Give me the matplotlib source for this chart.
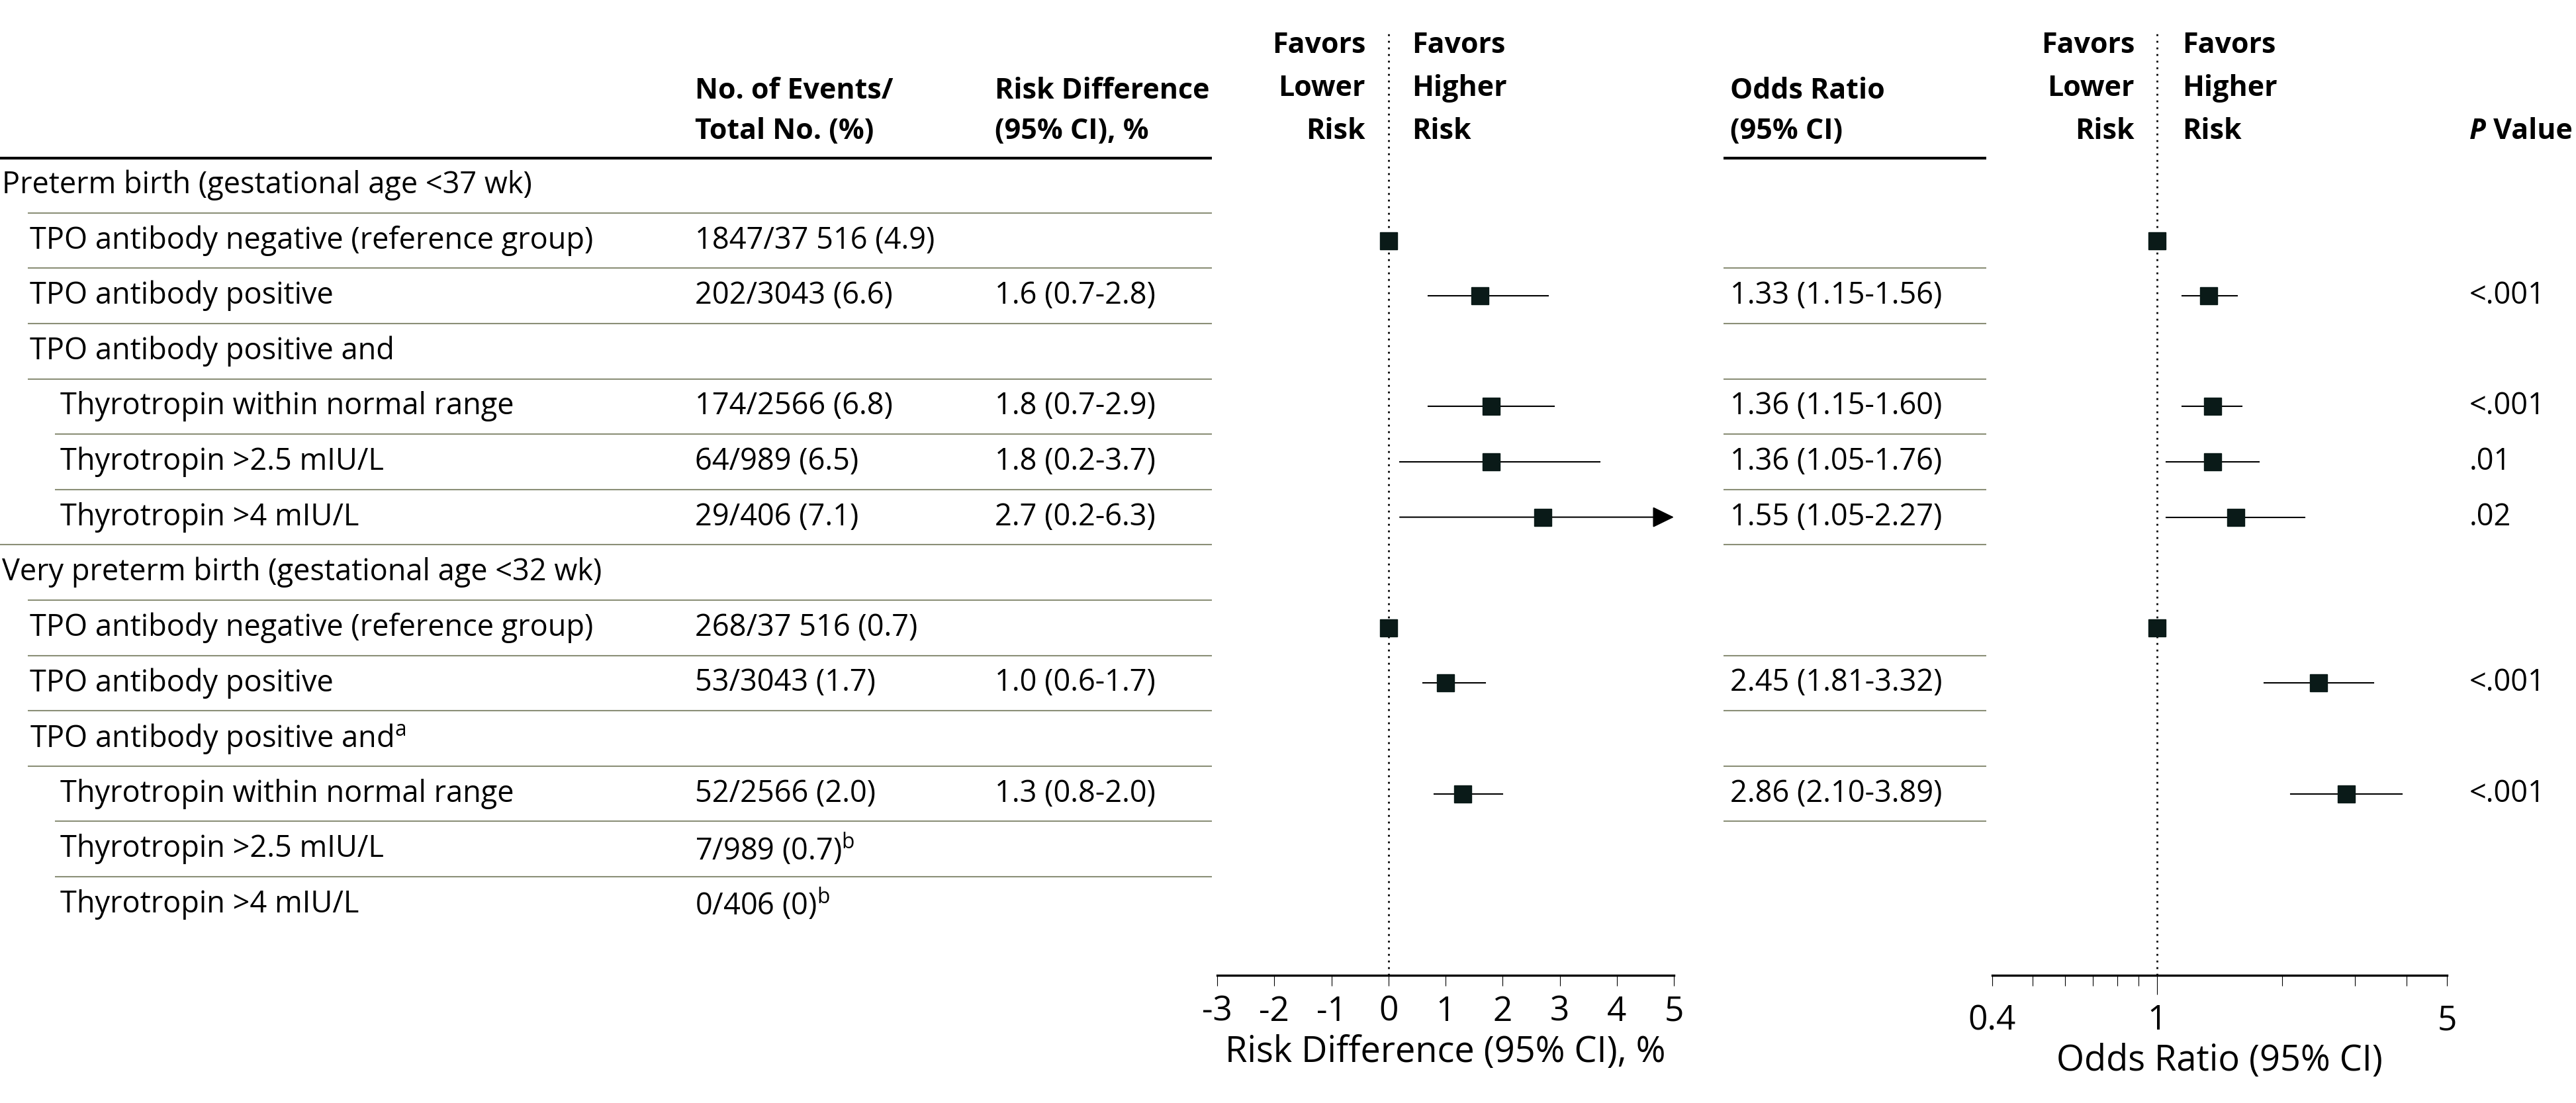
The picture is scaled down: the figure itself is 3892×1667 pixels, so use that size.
import numpy as np
import matplotlib
matplotlib.use('Agg')
import matplotlib.pyplot as plt
from matplotlib.ticker import NullFormatter

plt.rcParams['font.family'] = ['Open Sans', 'DejaVu Sans']
plt.rcParams['mathtext.fontset'] = 'custom'
plt.rcParams['mathtext.rm'] = 'Open Sans'

nan = np.nan

# ---- data ----
labels = [
    'Preterm birth (gestational age <37 wk)',
    'TPO antibody negative (reference group)',
    'TPO antibody positive',
    'TPO antibody positive and',
    'Thyrotropin within normal range',
    'Thyrotropin >2.5 mIU/L',
    'Thyrotropin >4 mIU/L',
    'Very preterm birth (gestational age <32 wk)',
    'TPO antibody negative (reference group)',
    'TPO antibody positive',
    'TPO antibody positive and$^{\\mathrm{a}}$',
    'Thyrotropin within normal range',
    'Thyrotropin >2.5 mIU/L',
    'Thyrotropin >4 mIU/L',
]
levels = [0, 1, 1, 1, 2, 2, 2, 0, 1, 1, 1, 2, 2, 2]
events = ['', '1847/37 516 (4.9)', '202/3043 (6.6)', '', '174/2566 (6.8)',
          '64/989 (6.5)', '29/406 (7.1)', '', '268/37 516 (0.7)', '53/3043 (1.7)',
          '', '52/2566 (2.0)', '7/989 (0.7)$^{\\mathrm{b}}$', '0/406 (0)$^{\\mathrm{b}}$']
rd = [nan, 0, 1.6, nan, 1.8, 1.8, 2.7, nan, 0, 1.0, nan, 1.3, nan, nan]
rd_lo = [nan, nan, 0.7, nan, 0.7, 0.2, 0.2, nan, nan, 0.6, nan, 0.8, nan, nan]
rd_hi = [nan, nan, 2.8, nan, 2.9, 3.7, 6.3, nan, nan, 1.7, nan, 2.0, nan, nan]
odds = [nan, 1, 1.33, nan, 1.36, 1.36, 1.55, nan, 1, 2.45, nan, 2.86, nan, nan]
odds_lo = [nan, nan, 1.15, nan, 1.15, 1.05, 1.05, nan, nan, 1.81, nan, 2.10, nan, nan]
odds_hi = [nan, nan, 1.56, nan, 1.60, 1.76, 2.27, nan, nan, 3.32, nan, 3.89, nan, nan]
pvals = ['', '', '<.001', '', '<.001', '.01', '.02', '', '', '<.001', '', '<.001', '', '']

rd_ticks = [-3, -2, -1, 0, 1, 2, 3, 4, 5]
or_ticks = [0.4, 1, 5]
or_minor = [0.5, 0.6, 0.7, 0.8, 0.9, 2, 3, 4]

# ---- layout (pixel units) ----
W, H = 3892, 1667
FS = 32.5
FS_HEAD = 31
FS_TICK = 37
FS_LAB = 39
ROW0, PITCH = 280, 83.6
indent = [3, 45, 91]
line_x0 = [42, 42, 42, 42, 83, 83, 0, 42, 42, 42, 42, 83, 83]
X_EV, X_RD, X_OR, X_P = 1050, 1503, 2614, 3731
TABLE_END = 1831
OR_L, OR_R = 2604, 3001
GRID = '#8b8f77'
MARK = '#0a1a18'
AX_TOP, AX_BOT = 50, 1474


def row_y(i):
    return ROW0 + PITCH * i


fig = plt.figure(figsize=(W / 100, H / 100), dpi=100)
tab = fig.add_axes([0, 0, 1, 1])
tab.set_xlim(0, W)
tab.set_ylim(H, 0)
tab.axis('off')

# headers
hb = dict(fontsize=FS_HEAD, fontweight='bold', va='center')
tab.text(X_EV, 137, 'No. of Events/', **hb)
tab.text(X_EV, 198, 'Total No. (%)', **hb)
tab.text(X_RD, 137, 'Risk Difference', **hb)
tab.text(X_RD, 198, '(95% CI), %', **hb)
tab.text(X_OR, 137, 'Odds Ratio', **hb)
tab.text(X_OR, 198, '(95% CI)', **hb)
pt = tab.text(X_P, 198, 'P', fontstyle='italic', **hb)
tab.annotate(' Value', xy=(1, 0.5), xycoords=pt, fontsize=FS_HEAD, fontweight='bold', va='center')
for xr, xl in [(2063, 2133), (3225, 3297)]:
    for yy, (a, b) in zip([68, 133, 198], [('Favors', 'Favors'), ('Lower', 'Higher'), ('Risk', 'Risk')]):
        tab.text(xr, yy, a, ha='right', **hb)
        tab.text(xl, yy, b, ha='left', **hb)

tab.plot([0, TABLE_END], [239, 239], color='black', lw=3, solid_capstyle='butt')
tab.plot([OR_L, OR_R], [239, 239], color='black', lw=3, solid_capstyle='butt')

# rows
for i, lab in enumerate(labels):
    y = row_y(i)
    tab.text(indent[levels[i]], y, lab, fontsize=FS, va='center')
    if events[i]:
        tab.text(X_EV, y, events[i], fontsize=FS, va='center')
    if not np.isnan(rd_lo[i]):
        tab.text(X_RD, y, f'{rd[i]:.1f} ({rd_lo[i]:.1f}-{rd_hi[i]:.1f})', fontsize=FS, va='center')
    if not np.isnan(odds_lo[i]):
        tab.text(X_OR, y, f'{odds[i]:.2f} ({odds_lo[i]:.2f}-{odds_hi[i]:.2f})', fontsize=FS, va='center')
    if pvals[i]:
        tab.text(X_P, y, pvals[i], fontsize=FS, va='center')

for k, x0 in enumerate(line_x0):
    yl = row_y(k) + PITCH / 2
    tab.plot([x0, TABLE_END], [yl, yl], color=GRID, lw=1.5, solid_capstyle='butt')

or_lines = set()
for i in range(len(labels)):
    if not np.isnan(odds_lo[i]):
        or_lines.update([i - 1, i])
for k in sorted(or_lines):
    yl = row_y(k) + PITCH / 2
    tab.plot([OR_L, OR_R], [yl, yl], color=GRID, lw=1.5, solid_capstyle='butt')


# forest axes
def forest_ax(x0, x1):
    ax = fig.add_axes([x0 / W, 1 - AX_BOT / H, (x1 - x0) / W, (AX_BOT - AX_TOP) / H])
    ax.set_ylim(AX_BOT, AX_TOP)
    ax.patch.set_alpha(0)
    for s in ['top', 'left', 'right']:
        ax.spines[s].set_visible(False)
    ax.spines['bottom'].set_linewidth(2.4)
    ax.set_yticks([])
    return ax


ax1 = forest_ax(1839, 2529)
ax1.set_xlim(-3, 5)
ax1.set_xticks(rd_ticks)
ax1.set_xticklabels([str(t) for t in rd_ticks])
ax1.tick_params(axis='x', length=11.5, width=0.8, pad=10, labelsize=FS_TICK)
ax1.set_xlabel('Risk Difference (95% CI), %', fontsize=FS_LAB, labelpad=6)
ax1.axvline(0, color='black', lw=2, ls=(0, (1, 2.6)))

ax2 = forest_ax(3010, 3697)
ax2.set_xscale('log')
ax2.set_xlim(0.4, 5)
ax2.set_xticks(or_ticks)
ax2.set_xticklabels(['0.4', '1', '5'])
ax2.set_xticks(or_minor, minor=True)
ax2.xaxis.set_minor_formatter(NullFormatter())
ax2.tick_params(axis='x', which='major', length=21, width=0.8, pad=10, labelsize=FS_TICK)
ax2.tick_params(axis='x', which='minor', length=11.5, width=0.8)
mt = ax2.xaxis.get_major_ticks()
mt[0].tick1line.set_markersize(11.5)
mt[2].tick1line.set_markersize(11.5)
ax2.set_xlabel('Odds Ratio (95% CI)', fontsize=FS_LAB, labelpad=6)
ax2.axvline(1, color='black', lw=2, ls=(0, (1, 2.6)))

for i in range(len(labels)):
    y = row_y(i)
    if not np.isnan(rd[i]):
        if not np.isnan(rd_lo[i]):
            hi = min(rd_hi[i], 5)
            if rd_hi[i] > 5:
                ax1.annotate('', xy=(hi, y), xytext=(rd_lo[i], y),
                             arrowprops=dict(arrowstyle='-|>,head_length=0.45,head_width=0.22',
                                             mutation_scale=45, lw=1.5, color='black',
                                             shrinkA=0, shrinkB=0))
            else:
                ax1.plot([rd_lo[i], hi], [y, y], color='black', lw=1.5)
        ax1.plot(rd[i], y, 's', ms=18.7, color=MARK, clip_on=False, zorder=5)
    if not np.isnan(odds[i]):
        if not np.isnan(odds_lo[i]):
            ax2.plot([odds_lo[i], odds_hi[i]], [y, y], color='black', lw=1.5)
        ax2.plot(odds[i], y, 's', ms=18.7, color=MARK, clip_on=False, zorder=5)

fig.savefig('out.png', dpi=100)
